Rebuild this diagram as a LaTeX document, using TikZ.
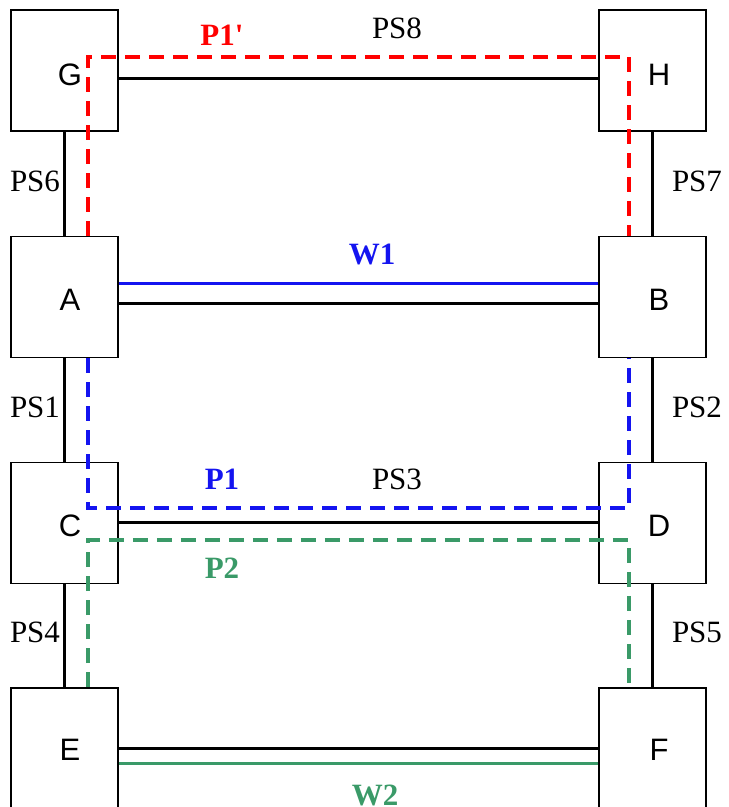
\documentclass[tikz,border=0pt]{standalone}
\usepackage{fontspec}
\setmainfont{Liberation Serif}
\setsansfont{Liberation Sans}
\definecolor{wred}{RGB}{255,0,0}
\definecolor{wblue}{RGB}{20,20,240}
\definecolor{wgreen}{RGB}{58,154,104}
\begin{document}
\begin{tikzpicture}[x=1pt,y=-1pt]
    \tikzstyle{every node}=[font=\fontsize{31}{36}\selectfont];
    \tikzstyle{sw}=[draw,line width=1.8pt,minimum width=107pt,minimum height=121pt,inner sep=0pt];
    \tikzstyle{swname}=[font=\sffamily\fontsize{31}{36}\selectfont];
    \tikzstyle{link}=[line width=3pt];
    \tikzstyle{work}=[line width=3pt];
    \tikzstyle{prot}=[line width=4pt,dash pattern=on 15pt off 9pt];
    \useasboundingbox (0,0) rectangle (729,807);
    % switches
    \node[sw] at (64.5,70.5) (G) {};
    \node[sw] at (652.5,70.5) (H) {};
    \node[sw] at (64.5,297) (A) {};
    \node[sw] at (652.5,297) (B) {};
    \node[sw] at (64.5,523) (C) {};
    \node[sw] at (652.5,523) (D) {};
    \node[sw] at (64.5,748.5) (E) {};
    \node[sw] at (652.5,748.5) (F) {};
    \node[swname] at (70,75) (nG) {G};
    \node[swname] at (659,75) (nH) {H};
    \node[swname] at (70,300) (nA) {A};
    \node[swname] at (659,300) (nB) {B};
    \node[swname] at (70,526) (nC) {C};
    \node[swname] at (659,526) (nD) {D};
    \node[swname] at (70,750) (nE) {E};
    \node[swname] at (659,750) (nF) {F};
    % links
    \draw[link] (G.south) -- (A.north);
    \draw[link] (A.south) -- (C.north);
    \draw[link] (C.south) -- (E.north);
    \draw[link] (H.south) -- (B.north);
    \draw[link] (B.south) -- (D.north);
    \draw[link] (D.south) -- (F.north);
    \draw[link] ([yshift=-7.5pt]G.east) -- ([yshift=-7.5pt]H.west);
    \draw[link] ([yshift=-6pt]A.east) -- ([yshift=-6pt]B.west);
    \draw[link] ([yshift=1pt]C.east) -- ([yshift=1pt]D.west);
    \draw[link] (E.east) -- (F.west);
    \node at (35,181) (ps6) {PS6};
    \node at (697,181) (ps7) {PS7};
    \node at (35,407) (ps1) {PS1};
    \node at (697,407) (ps2) {PS2};
    \node at (35,632) (ps4) {PS4};
    \node at (697,632) (ps5) {PS5};
    \node at (397,28) (ps8) {PS8};
    \node at (397,479) (ps3) {PS3};
    % working paths
    \draw[work,wblue] ([yshift=14pt]A.east) -- ([yshift=14pt]B.west);
    \draw[work,wgreen] ([yshift=-14.5pt]E.east) -- ([yshift=-14.5pt]F.west);
    \node[wblue,font=\bfseries\fontsize{31}{36}\selectfont] at (372,254) (w1) {W1};
    \node[wgreen,font=\bfseries\fontsize{31}{36}\selectfont] at (375,795) (w2) {W2};
    % protection paths
    \draw[prot,wred] ([xshift=23.5pt]A.north) |- ([xshift=-23.5pt,yshift=13.5pt]H.center) -- ([xshift=-23.5pt]B.north);
    \draw[prot,wblue] ([xshift=23.5pt]A.south) |- ([xshift=-23.5pt,yshift=15pt]D.center) -- ([xshift=-23.5pt]B.south);
    \draw[prot,wgreen] ([xshift=23.5pt]E.north) |- ([xshift=-23.5pt,yshift=-17pt]D.center) -- ([xshift=-23.5pt]F.north);
    \node[wred,font=\bfseries\fontsize{31}{36}\selectfont] at (222,35) (p1x) {P1\textquotesingle};
    \node[wblue,font=\bfseries\fontsize{31}{36}\selectfont] at (222,479) (p1) {P1};
    \node[wgreen,font=\bfseries\fontsize{31}{36}\selectfont] at (222,568) (p2) {P2};
\end{tikzpicture}
\end{document}
